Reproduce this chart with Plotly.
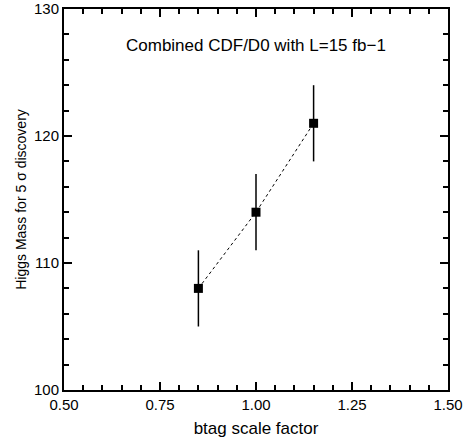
import plotly.graph_objects as go

btag_scale = [0.85, 1.00, 1.15]
higgs_mass = [108, 114, 121]
mass_err = [3, 3, 3]

x_ticks = [0.50, 0.75, 1.00, 1.25, 1.50]
x_tick_labels = ["0.50", "0.75", "1.00", "1.25", "1.50"]
y_ticks = [100, 110, 120, 130]

x_minor = [round(0.5 + 0.05 * i, 2) for i in range(21)]
y_minor = [100 + 2 * i for i in range(16)]

x_range = [0.5, 1.5]
y_range = [100, 130]

fig = go.Figure()
fig.add_trace(go.Scatter(
    x=btag_scale, y=higgs_mass,
    mode="lines+markers",
    line=dict(color="black", width=1, dash="dot"),
    marker=dict(symbol="square", size=9, color="black"),
    error_y=dict(type="data", array=mass_err, color="black", thickness=1.5, width=0),
    showlegend=False,
))
# empty trace hosting the minor-tick overlay axes
fig.add_trace(go.Scatter(x=[], y=[], xaxis="x2", yaxis="y2", showlegend=False, hoverinfo="skip"))

font = "Liberation Sans, Arial, Helvetica, sans-serif"
axis_common = dict(
    showline=True, linecolor="black", linewidth=2, mirror="ticks",
    ticks="inside", ticklen=8, tickwidth=2, tickcolor="black",
    showgrid=False, zeroline=False, automargin=False,
    tickfont=dict(family=font, size=15, color="black"),
)
minor_common = dict(
    showline=True, linecolor="black", linewidth=2, mirror="ticks",
    ticks="inside", ticklen=5, tickwidth=2, tickcolor="black",
    showgrid=False, zeroline=False, automargin=False, showticklabels=False,
    tickmode="array",
)
fig.update_layout(
    xaxis=dict(
        range=x_range, tickmode="array", tickvals=x_ticks, ticktext=x_tick_labels,
        title=dict(text="btag scale factor", font=dict(family=font, size=17, color="black"), standoff=10),
        **axis_common,
    ),
    yaxis=dict(
        range=y_range, tickmode="array", tickvals=y_ticks,
        title=dict(text="Higgs Mass for 5 σ discovery", font=dict(family=font, size=14, color="black"), standoff=4),
        **axis_common,
    ),
    xaxis2=dict(range=x_range, tickvals=x_minor, overlaying="x", anchor="y2", side="bottom", **minor_common),
    yaxis2=dict(range=y_range, tickvals=y_minor, overlaying="y", anchor="x2", side="left", **minor_common),
)
fig.add_annotation(
    x=0.5, y=0.905, xref="paper", yref="paper", xanchor="center", yanchor="middle",
    text="Combined CDF/D0 with L=15 fb−1", showarrow=False,
    font=dict(family=font, size=17, color="black"),
)
fig.update_layout(
    width=467, height=443,
    margin=dict(l=64, r=19, t=9, b=53),
    paper_bgcolor="white", plot_bgcolor="white",
    modebar=dict(bgcolor="rgba(0,0,0,0)", color="rgba(0,0,0,0)", activecolor="rgba(0,0,0,0)"),
)
fig.write_html("out.html", config={"displayModeBar": False, "displaylogo": False},
               post_script="document.body.style.margin='0';")
